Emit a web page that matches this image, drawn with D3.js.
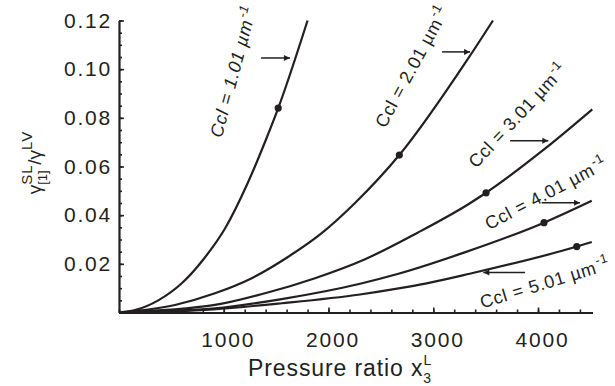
<!DOCTYPE html>
<html><head><meta charset="utf-8">
<script src="https://cdn.jsdelivr.net/npm/d3@7"></script>
<style>
body{margin:0;background:#fff}
svg{display:block}
text{font-family:"Liberation Sans",Arial,Helvetica,sans-serif;fill:#231f20}
</style>
</head><body>
<svg id="chart" width="615" height="386"></svg>
<script>
// ---- data ----
const xTicks = [1000, 2000, 3000, 4000];
const xMinorTicks = d3.range(0, 4600, 200);
const yTicks = [0.02, 0.04, 0.06, 0.08, 0.10, 0.12];
const yTickLabels = ["0.02", "0.04", "0.06", "0.08", "0.10", "0.12"];
const yMinorTicks = [0.005,0.01,0.015,0.02,0.025,0.03,0.035,0.04,0.045,0.05,0.055,0.06,0.065,0.07,0.075,0.08,0.085,0.09,0.095,0.10,0.105,0.11,0.115,0.12];

const seriesNames = ["1.01", "2.01", "3.01", "4.01", "5.01"];

const c1x = [0, 153, 375, 599, 805, 1012, 1232, 1407, 1520, 1800];
const c1y = [0, 0.0010, 0.0050, 0.0120, 0.0218, 0.0345, 0.0535, 0.0715, 0.0840, 0.1200];

const c2x = [0, 535, 916, 1267, 1616, 1935, 2253, 2676, 3335, 3570];
const c2y = [0, 0.0031, 0.0079, 0.0141, 0.0229, 0.0326, 0.0450, 0.0647, 0.1045, 0.1200];

const c3x = [0, 916, 1394, 1871, 2349, 2842, 3335, 3504, 4051, 4518];
const c3y = [0, 0.0031, 0.0079, 0.0141, 0.0219, 0.0326, 0.0445, 0.0492, 0.0668, 0.0835];

const c4x = [0, 916, 1553, 2301, 2650, 3300, 4057, 4513];
const c4y = [0, 0.0017, 0.0055, 0.0118, 0.0157, 0.0247, 0.0369, 0.0459];

const c5x = [0, 900, 1553, 2301, 2683, 2937, 3335, 4370, 4513];
const c5y = [0, 0.0013, 0.0038, 0.0074, 0.0100, 0.0120, 0.0158, 0.0271, 0.0290];

const dotX = [1520, 2676, 3504, 4057, 4370];
const dotY = [0.0840, 0.0647, 0.0492, 0.0369, 0.0271];

// curve labels (centre, angle)
const labelX = [1090, 2795, 3805, 4075, 4065];
const labelY = [0.0990, 0.1010, 0.0810, 0.0490, 0.0122];
const labelAngle = [-75, -61.5, -47, -27.6, -17];
const labelItalic = [true, false, false, false, false];

// arrows (start -> end)
const arrowX1 = [1356, 3084, 3733, 4035, 3876];
const arrowX2 = [1632, 3351, 4098, 4401, 3478];
const arrowY = [0.1046, 0.1071, 0.0706, 0.0451, 0.0164];

// ---- chart ----
const svg = d3.select("#chart");
const x = d3.scaleLinear().domain([0, 4520]).range([119, 592.5]);
const y = d3.scaleLinear().domain([0, 0.12]).range([312.5, 20.5]);
const ink = "#231f20";

const defs = svg.append("defs");
defs.append("marker").attr("id", "ah").attr("viewBox", "0 0 10 10")
  .attr("refX", 10).attr("refY", 5).attr("markerWidth", 9).attr("markerHeight", 6)
  .attr("markerUnits", "userSpaceOnUse").attr("orient", "auto")
  .append("path").attr("d", "M0,0L10,5L0,10z").attr("fill", ink);

// minor ticks
svg.append("g").attr("transform", `translate(0,${y(0)})`)
  .call(d3.axisBottom(x).tickValues(xMinorTicks).tickSize(-3).tickFormat(""))
  .call(g => g.select(".domain").remove())
  .call(g => g.selectAll("line").attr("stroke", ink).attr("stroke-width", 1.6));
svg.append("g").attr("transform", `translate(${x(0)},0)`)
  .call(d3.axisLeft(y).tickValues(yMinorTicks).tickSize(-3).tickFormat(""))
  .call(g => g.select(".domain").remove())
  .call(g => g.selectAll("line").attr("stroke", ink).attr("stroke-width", 1.6));

// major axes
const xAxis = svg.append("g").attr("transform", `translate(0,${y(0)})`)
  .call(d3.axisBottom(x).tickValues(xTicks).tickSizeInner(-5).tickSizeOuter(0).tickPadding(19.5).tickFormat(d3.format("d")));
xAxis.select(".domain").attr("stroke", ink).attr("stroke-width", 2.2);
xAxis.selectAll("line").attr("stroke", ink).attr("stroke-width", 1.6);
xAxis.selectAll("text").attr("font-size", 21).attr("letter-spacing", "1.8px").attr("dx", 4).attr("fill", ink)
  .attr("font-family", '"Liberation Sans",Arial,sans-serif');

const yAxis = svg.append("g").attr("transform", `translate(${x(0)},0)`)
  .call(d3.axisLeft(y).tickValues(yTicks).tickSizeInner(-5).tickSizeOuter(0).tickPadding(7)
    .tickFormat((d, i) => yTickLabels[i]));
yAxis.select(".domain").attr("stroke", ink).attr("stroke-width", 2.2);
yAxis.selectAll("line").attr("stroke", ink).attr("stroke-width", 1.6);
yAxis.selectAll("text").attr("font-size", 21).attr("letter-spacing", "1.8px").attr("fill", ink)
  .attr("font-family", '"Liberation Sans",Arial,sans-serif');

// curves
const seriesX = [c1x, c2x, c3x, c4x, c5x];
const seriesY = [c1y, c2y, c3y, c4y, c5y];
const line = d3.line().x(d => x(d[0])).y(d => y(d[1])).curve(d3.curveMonotoneX);
seriesX.forEach((xs, i) => {
  const pts = xs.map((v, j) => [v, seriesY[i][j]]);
  svg.append("path").attr("d", line(pts)).attr("fill", "none")
    .attr("stroke", ink).attr("stroke-width", 2.2).attr("stroke-linejoin", "round");
});

// dots
svg.selectAll(".dot").data(dotX).enter().append("circle")
  .attr("cx", (d) => x(d)).attr("cy", (d, i) => y(dotY[i])).attr("r", 3.6).attr("fill", ink);

// arrows
arrowX1.forEach((v, i) => {
  svg.append("line").attr("x1", x(v)).attr("x2", x(arrowX2[i]))
    .attr("y1", y(arrowY[i])).attr("y2", y(arrowY[i]))
    .attr("stroke", ink).attr("stroke-width", 1.5).attr("marker-end", "url(#ah)");
});

// curve labels
seriesNames.forEach((nm, i) => {
  const t = svg.append("text")
    .attr("transform", `translate(${x(labelX[i])},${y(labelY[i])}) rotate(${labelAngle[i]})`)
    .attr("text-anchor", "middle").attr("dy", "0.35em").attr("font-size", 18)
    .attr("letter-spacing", "0.7px")
    .attr("font-style", labelItalic[i] ? "italic" : "normal");
  t.append("tspan").text(`Ccl = ${nm} \u00b5m`);
  t.append("tspan").attr("font-size", 13).attr("dx", 1).attr("dy", -8).text("-1");
});

// x axis title
const xt = svg.append("text").attr("x", 248).attr("y", 376).attr("font-size", 23).attr("letter-spacing", "0.9px");
xt.append("tspan").text("Pressure ratio x");
xt.append("tspan").attr("font-size", 14).attr("dy", -11).attr("dx", 0).text("L");
xt.append("tspan").attr("font-size", 14).attr("dy", 18).attr("dx", -9).text("3");

// y axis title
const yt = svg.append("text").attr("transform", "translate(41,162.5) rotate(-90)")
  .attr("text-anchor", "middle").attr("font-size", 19);
yt.append("tspan").text("\u03b3");
yt.append("tspan").attr("font-size", 15).attr("letter-spacing", "1px").attr("dy", -9.5).text("SL");
yt.append("tspan").attr("font-size", 13).attr("dx", -20.5).attr("dy", 15.2).text("[1]");
yt.append("tspan").attr("dx", 5.5).attr("dy", -5.7).text("/\u03b3");
yt.append("tspan").attr("font-size", 15).attr("letter-spacing", "1px").attr("dy", -9.5).text("LV");
</script>
</body></html>
